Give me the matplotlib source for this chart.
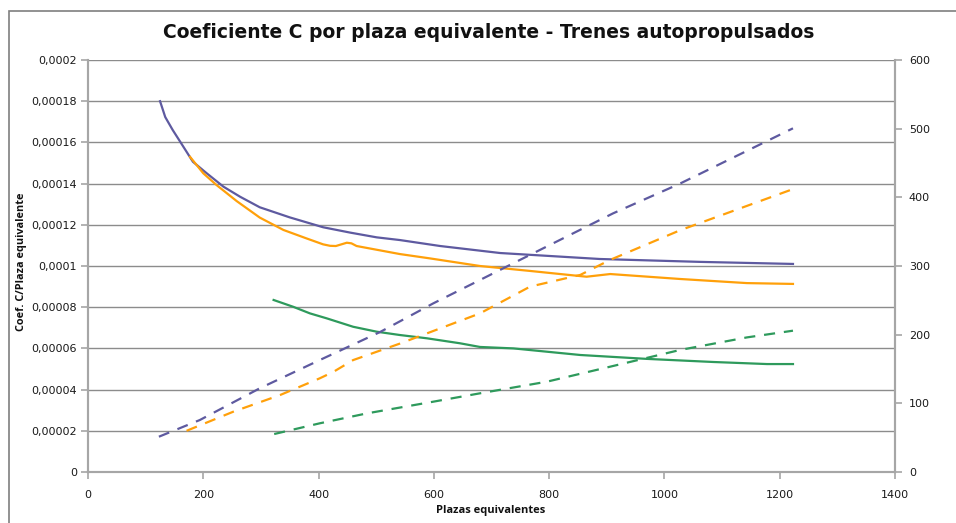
import matplotlib
matplotlib.use("Agg")
import matplotlib.pyplot as plt
from matplotlib.patches import Rectangle

# Coeficiente C por plaza (eje izquierdo)
x_morado = [125, 134, 147, 160, 182, 206, 235, 264, 298, 350, 408, 455, 501, 541, 611,
            715, 888, 1062, 1223]
c_morado = [0.00018, 0.0001723, 0.000166, 0.0001603, 0.0001506, 0.000145, 0.0001385,
            0.0001336, 0.0001285, 0.0001236, 0.0001188, 0.0001162, 0.0001139, 0.0001126,
            0.0001097, 0.0001063, 0.0001034, 0.000102, 0.000101]

x_naranja = [177, 200, 223, 258, 298, 339, 379, 408, 420, 430, 449, 457, 466, 541, 593,
             680, 767, 854, 865, 906, 1027, 1143, 1223]
c_naranja = [0.000153, 0.000145, 0.0001393, 0.0001315, 0.0001235, 0.0001175, 0.0001134,
             0.0001105, 0.0001098, 0.0001097, 0.0001113, 0.000111, 0.0001097, 0.0001058,
             0.0001037, 0.0001, 0.0000976, 0.0000951, 0.0000948, 0.0000961, 0.0000937,
             0.0000917, 0.0000913]

x_verde = [322, 356, 385, 414, 460, 501, 541, 588, 645, 680, 738, 854, 970, 1085, 1178,
           1223]
c_verde = [0.0000835, 0.0000802, 0.000077, 0.0000746, 0.0000705, 0.0000681, 0.0000665,
           0.0000649, 0.0000625, 0.0000607, 0.00006, 0.0000568, 0.0000549, 0.0000534,
           0.0000524, 0.0000524]

# Coeficiente C total (eje derecho)
xd_morado = [123, 194, 298, 402, 507, 599, 680, 749, 911, 1027, 1223]
cd_morado = [51.4, 75.7, 121.9, 163, 204, 245.6, 279.6, 308.7, 376.7, 420, 500.5]

xd_naranja = [171, 252, 333, 402, 426, 460, 541, 680, 767, 854, 906, 1027, 1223]
cd_naranja = [60, 87.8, 112, 136.4, 146, 163, 187, 231, 270, 287, 309, 352, 412]

xd_verde = [323, 402, 484, 599, 680, 796, 911, 1027, 1143, 1223]
cd_verde = [55.3, 70.9, 85.4, 102.4, 114.6, 131.5, 154.4, 177.7, 196, 205.8]

ticks_izq = [0, 0.00002, 0.00004, 0.00006, 0.00008, 0.0001, 0.00012, 0.00014,
             0.00016, 0.00018, 0.0002]
etiquetas_izq = ["0", "0,00002", "0,00004", "0,00006", "0,00008", "0,0001",
                 "0,00012", "0,00014", "0,00016", "0,00018", "0,0002"]
ticks_der = [0, 100, 200, 300, 400, 500, 600]
ticks_x = [0, 200, 400, 600, 800, 1000, 1200, 1400]

MORADO = "#5E5AA0"
NARANJA = "#FFA00A"
VERDE = "#2E9A5C"
GRIS = "#8C8C8C"
GRIS_EJE = "#A6A6A6"

fig = plt.figure(figsize=(9.56, 5.23), dpi=100)
fig.patches.append(Rectangle((9 / 956, -0.1), 1.2, 1 - 11 / 523 + 0.1,
                             transform=fig.transFigure, fill=False,
                             edgecolor="#7F7F7F", linewidth=1.2))

ax = fig.add_axes([88 / 956, 1 - 472 / 523, (895 - 88) / 956, (472 - 60) / 523])
ax2 = ax.twinx()

ax.set_xlim(0, 1400)
ax.set_ylim(0, 0.0002)
ax2.set_ylim(0, 600)

ax.set_yticks(ticks_izq)
ax.set_yticklabels(etiquetas_izq)
ax.set_xticks(ticks_x)
ax2.set_yticks(ticks_der)

ax.grid(axis="y", color=GRIS, linewidth=1.0)
ax.set_axisbelow(True)

for a in (ax, ax2):
    a.spines["top"].set_visible(False)
    for s in ("left", "right", "bottom"):
        a.spines[s].set_color(GRIS_EJE)
        a.spines[s].set_linewidth(1.5)
    a.tick_params(colors=GRIS_EJE, labelcolor="#1A1A1A", labelsize=8,
                  length=5, width=1.2, direction="out")
ax.tick_params(axis="y", pad=3)
ax.tick_params(axis="x", pad=8)
ax2.tick_params(axis="y", pad=5)

lw = 1.6
ax.plot(x_morado, c_morado, color=MORADO, linewidth=lw)
ax.plot(x_naranja, c_naranja, color=NARANJA, linewidth=lw)
ax.plot(x_verde, c_verde, color=VERDE, linewidth=lw)

dash = (0, (5, 4))
ax2.plot(xd_morado, cd_morado, color=MORADO, linewidth=lw, linestyle=dash)
ax2.plot(xd_naranja, cd_naranja, color=NARANJA, linewidth=lw, linestyle=dash)
ax2.plot(xd_verde, cd_verde, color=VERDE, linewidth=lw, linestyle=dash)

fig.text(489 / 956, 1 - 33 / 523, "Coeficiente C por plaza equivalente - Trenes autopropulsados",
         ha="center", va="center", fontsize=13.5, fontweight="bold",
         family="DejaVu Sans", color="#111111")
fig.text(491 / 956, 1 - 510 / 523, "Plazas equivalentes", ha="center", va="center",
         fontsize=8, fontweight="bold", family="Open Sans", color="#111111")
fig.text(22 / 956, 1 - 262 / 523, "Coef. C/Plaza equivalente", ha="center", va="center",
         rotation=90, fontsize=7.8, fontweight="bold", family="Open Sans", color="#111111")

fig.savefig("out.png", dpi=100)
